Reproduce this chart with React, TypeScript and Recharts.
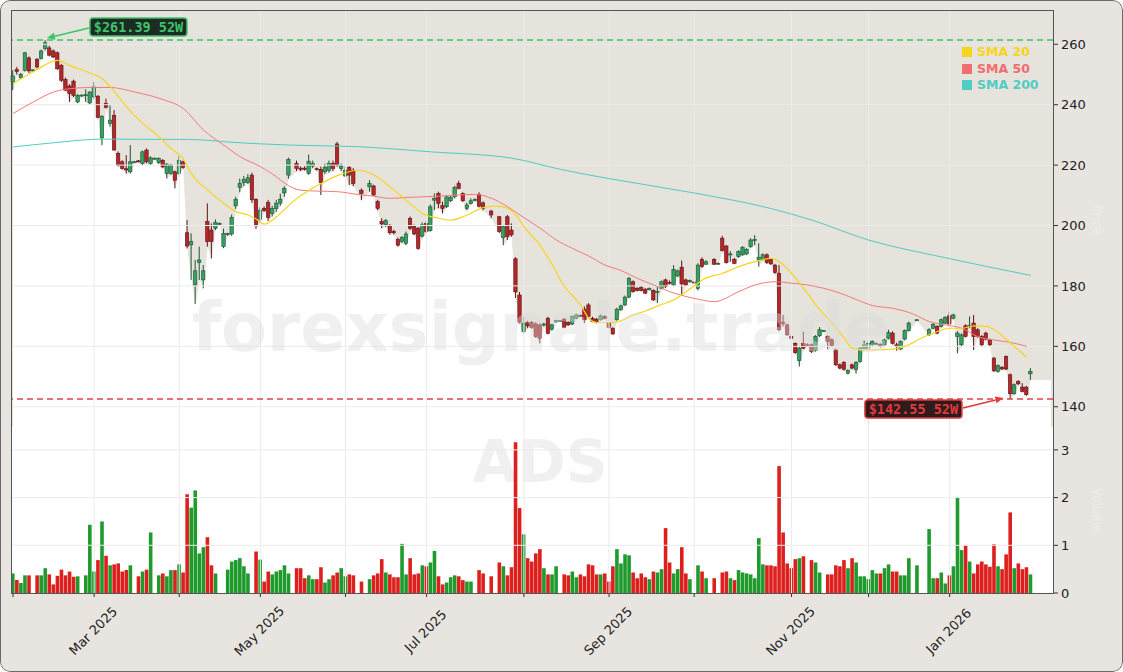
import React from 'react';
import {
  ComposedChart,
  Bar,
  Line,
  Area,
  XAxis,
  YAxis,
  CartesianGrid,
  ReferenceLine,
  ReferenceDot,
  Cell,
} from 'recharts';

// daily OHLC, one slot per trading day (null = no data that day)
const OPEN = [
  247.5, 251.6, 248.9, 251.4, 255.5, 251.3, 255, 255.3, 258.6, 258.8,
  257.8, 257.2, 253, 248.4, 246.2, 247.8, 240.9, 243, 243, 240.6,
  242.6, 242.8, 229, 240.4, 233.8, 236.5, 223.9, 221.1, 218.8, 217.8,
  221, 221.4, 220.5, 225, 220.5, 222.1, 220.8, 221.6, 217.2, 217.2,
  217.8, 217.2, 221.1, 197.6, 193.6, 180.3, 187.7, 182, 201.3, 198.5,
  199.1, 200.5, 193, 197, 197.2, 206.5, 212.6, 214.2, 214.2, 216.7,
  208.7, 202.1, 205.7, 207.6, 204, 205.6, 207.4, 210.8, 216.7, null,
  220.6, 219, 219, 217.3, 219.7, 218.8, 218.6, 217.8, 218.2, 220.6,
  227, 218.9, 216.4, 219.2, 218.3, null, 211.7, null, 212.8, 213.1,
  207.9, 201.3, 200.2, 199.8, 198, 195.4, 194.7, 194.1, 202.4, 199.8,
  199.1, 196.5, 200.7, 198.3, 208.4, 210.6, 206.6, 206.2, 208.2, 209.5,
  213.9, 210.6, 205.7, 207.3, 208.4, 210.3, 207.5, null, 204.8, null,
  202.9, 196, 202.9, 198.5, 189, 177, 164.9, 167.9, 167.9, 167.4,
  167.1, 167.1, 169.3, 165.7, 168.1, 168.5, 169, 167.9, 167.4, 169.3,
  170.2, 172.3, 173.7, 169.3, 169, 168.8, 169.9, 167.7, 166, 168.8,
  172.1, 173.7, 176.3, 181.4, 179.2, 179.6, 178.9, 178.8, 178.5, 177.8,
  179.2, 182, 181.2, 180.3, 183.3, 186.2, 182, 181.4, 181.3, 179.2,
  188.8, 187.2, null, 188.8, 187.4, 195.8, 193.2, 190.3, 188.8, 189.7,
  190.3, 190.6, 193, 195, 188.6, 188.8, 190.3, 188.8, 186.9, 184.2,
  168, 167.1, 163.2, 161, 155.3, 161, 160.5, 160.5, 158.6, 163.5,
  165.1, 163.3, 162.2, 158.8, 153.9, 154.7, 151.1, 153.9, 152.4, 155,
  159.4, 159.4, 160.5, 160.9, 160.6, 160.5, 162.7, 164.4, 160.5, 159.1,
  162.4, 165.2, null, 168.7, null, null, 163.8, 166, 166.6, 166.6,
  167.7, 170.1, 169.3, 163.3, 160.5, 166.8, 166.5, 167.7, 165.5, 163.3,
  164.4, 162.1, 156.1, 151.7, 153.1, 156.6, 150.6, 144.3, 148.4, 146.5,
  146.5, 150.9,
];
const HIGH = [
  251.4, 252.5, 250.5, 257.5, 256, 251.8, 255.5, 258.2, 261.39, 259.5,
  258.3, 257.6, 253.5, 249, 246.8, 248.3, 243.5, 243.4, 245.1, 244.5,
  247.5, 243.2, 236.5, 242, 239.8, 238.2, 224.5, 221.6, 223.3, 226.6,
  221.4, 221.7, 224.8, 225.5, 222.9, 222.5, 222.6, 222, 220.7, 220.4,
  218.2, 223, 221.5, 201.8, 197.4, 188.6, 193, 186.9, 207.3, 200.7,
  202, 201, 199, 197.6, 203.6, 209.5, 215.5, 216.4, 217, 217.5,
  209, 206, 206.3, 208.5, 206.5, 208.5, 210.5, 213, 222.5, null,
  221.5, 219.5, 219.6, 223.5, 221.5, 219.2, 219.5, 220.5, 221.5, 221.5,
  227.7, 220.5, 219.5, 219.7, 219, null, 212.3, null, 215, 213.5,
  208.5, 202.4, 202.2, 200.5, 198.6, 196, 196.5, 198, 203, 200.3,
  199.5, 201, 201.5, 207, 210.6, 211.2, 207.9, 210, 209.8, 213.2,
  214.8, 211, 207.5, 209, 209, 211, 208, null, 205.2, null,
  203.2, 200, 203.5, 200.7, 189.5, 178, 169.9, 168.5, 168.4, 168,
  167.6, 167.8, 169.8, 167.5, 168.8, 168.7, 169.4, 168.3, 170.2, 170.8,
  170.5, 173.2, 174.3, 169.8, 169.4, 170.5, 170.3, 168, 166.3, 172.8,
  173.8, 176.8, 183, 181.8, 179.6, 180, 179.3, 179.5, 178.9, 179.6,
  181.8, 182.4, 181.8, 186.9, 185.4, 188.4, 182.4, 182.1, 181.5, 187.5,
  189.5, 188.5, null, 189.2, 187.8, 196.6, 193.6, 191.5, 189.3, 191.8,
  193.2, 192.5, 195.8, 196.8, 194.1, 190.8, 190.8, 189.2, 187.3, 186.9,
  170.4, 167.5, 163.6, 161.3, 159.8, 164.8, 161, 160.9, 163.7, 166.4,
  165.4, 163.7, 162.6, 159.2, 154.3, 155.1, 152.4, 154.3, 155.1, 159.8,
  161.9, 161.6, 162, 161.3, 161, 162.5, 165.5, 165, 161.2, 162,
  165.6, 168.2, null, 169, null, null, 166, 167.7, 167, 169.2,
  170, 171.5, 170.8, 165, 164.3, 167.3, 169.9, 170.4, 166, 163.7,
  164.8, 162.5, 156.5, 154, 153.4, 157, 151, 147.7, 148.8, 147.8,
  146.9, 152.8,
];
const LOW = [
  244.8, 250, 248.5, 251, 250.5, 251, 252, 255, 258, 256,
  255.5, 251.5, 247.5, 244.5, 240.9, 242.5, 240.5, 242.6, 240.9, 240,
  242, 235.5, 226.6, 238.8, 232.7, 224.8, 219.5, 218.5, 217.2, 217.2,
  220.7, 220.9, 220, 220.6, 220, 221.8, 220.4, 219, 215.6, 216.8,
  212.3, 216.8, 218.8, 192.4, 182, 174, 182, 179.2, 193, 189.1,
  198.5, 200.4, 192.5, 196.6, 196.6, 205.5, 211, 213, 213.8, 207.5,
  198.9, 201, 204.5, 201.5, 203, 204.5, 206.5, 209.5, 215.5, null,
  218, 218, 218.2, 216.8, 219, 218.2, 210.1, 217, 217.5, 218,
  219.5, 218, 216, 213.4, 213, null, 208.4, null, 211.2, 209.8,
  205, 199.1, 199.5, 197, 197, 193, 194.2, 193.5, 198.5, 196.8,
  192, 196, 197.5, 198, 205.1, 205.7, 204, 205.8, 207.8, 209,
  212, 207.8, 205, 207, 208, 206, 205, null, 202.4, null,
  197.5, 193.5, 195.2, 196.3, 176, 167.5, 164.3, 166, 165.8, 162.8,
  161, 166.6, 164, 165.2, 167.8, 168.3, 166, 166.8, 167, 169,
  169.8, 167.7, 169.5, 168, 167.6, 168.5, 169, 166, 163.8, 168.5,
  171.8, 173.4, 176, 177.8, 178.2, 178.2, 177.3, 178.5, 175, 174.3,
  178.9, 179.3, 180.5, 180, 183, 177, 180, 181, 180.8, 178.5,
  186, 187, null, 186.9, 187.2, 191.4, 187.4, 188, 187.2, 189.3,
  190, 190.2, 192.6, 193.5, 186.4, 188.4, 187.3, 187, 184, 165,
  166.6, 163.5, 162.4, 157.5, 153.3, 159, 160, 157.8, 158.2, 163.1,
  164.9, 159, 159.8, 153.5, 152.4, 152, 150.7, 152.4, 151, 154.6,
  159, 159, 160.2, 160.6, 159.6, 160.2, 162.3, 160.6, 158.6, 158.8,
  162, 164.9, null, 168.5, null, null, 163.4, 165.7, 164, 166.3,
  167.4, 167, 169, 157.7, 160, 163, 166, 158.8, 162.9, 160.1,
  162, 160.1, 151.5, 151.3, 152.2, 152.1, 142.55, 144, 147.2, 144.8,
  143.6, 148.9,
];
const CLOSE = [
  249.5, 251, 250, 257.2, 251.2, 251.5, 252.5, 257.8, 260.5, 256.4,
  255.8, 251.9, 248.1, 244.8, 243.7, 243.1, 243.1, 243.2, 243.3, 244.2,
  245.9, 235.8, 236.2, 239.1, 234.9, 225, 220, 218.9, 218.4, 221.1,
  221.1, 221.2, 224.4, 221.1, 222.4, 222.3, 222.2, 219.4, 220.3, 220,
  215, 221.6, 219.2, 193.2, 194.7, 185, 188.6, 185, 194.7, 194.7,
  201, 200.7, 197.4, 197.3, 202.7, 208.7, 214, 215.3, 215.8, 208.5,
  199.9, 205.1, 205, 202.7, 205.6, 207.4, 208.7, 212.3, 221.9, null,
  218.9, 218.6, 218.6, 221.3, 220.6, 218.6, 214.2, 219.3, 220.5, 218.9,
  220, 219.7, 218.3, 216.7, 213.9, null, 210.6, null, 213.9, 210.1,
  205.7, 200.5, 201.6, 197.6, 197.6, 193.5, 196, 197.2, 199.1, 197.2,
  192.4, 200.2, 198, 206.2, 209, 207.3, 205.7, 209.5, 209.3, 212.6,
  212.3, 208.2, 206.8, 208.2, 208.6, 206.4, 205.7, null, 203.5, null,
  198, 199.6, 196.3, 196.9, 178, 168, 167.7, 166.8, 166.3, 163.2,
  162.7, 167.4, 164.3, 167.1, 168.5, 168.5, 166.3, 167.1, 169.9, 170.4,
  170.1, 168.8, 169.9, 168.2, 167.9, 170.1, 169.2, 166.3, 164.1, 172.3,
  173.4, 176.3, 182.5, 178.1, 178.5, 178.5, 177.6, 179.2, 175.4, 178.2,
  181.4, 179.8, 181, 185.5, 185, 180.7, 180.3, 181.8, 181.1, 186.9,
  186.4, 188, null, 187.2, 187.5, 191.7, 187.7, 190.6, 187.5, 191.4,
  192.8, 192.1, 195.2, 195.4, 189.5, 190.3, 187.7, 187.3, 184.4, 165.5,
  167.5, 163.8, 162.7, 157.9, 159.4, 159.4, 160.2, 158.3, 163.3, 165.5,
  165.2, 161.6, 160.2, 153.9, 152.8, 152.4, 152, 152.8, 154.7, 159.4,
  160.5, 161, 161.6, 161, 160, 162.1, 164.6, 161, 160, 161.6,
  165.2, 167.7, null, 168.8, null, null, 165.5, 167.3, 164.4, 168.8,
  169.6, 167.4, 170.4, 164.4, 163.8, 163.3, 167, 163.3, 163.3, 160.5,
  162.4, 160.5, 151.9, 153.6, 152.5, 152.5, 144.3, 147.3, 147.6, 145.1,
  144, 151.7,
];
// volume in millions (0 = missing)
const VOLUME = [
  0.41, 0.27, 0.21, 0.37, 0.37, 0, 0.37, 0.37, 0.52, 0.39,
  0.18, 0.36, 0.49, 0.37, 0.45, 0.34, 0.35, 0, 0.37, 1.43,
  0.45, 0.69, 1.5, 0.78, 0.58, 0.6, 0.62, 0.45, 0.48, 0.58,
  0, 0.35, 0.45, 0.49, 1.27, 0, 0.37, 0.41, 0.35, 0.48,
  0.48, 0.6, 0.43, 2.07, 1.79, 2.15, 0.83, 0.96, 1.17, 0.58,
  0.41, 0, 0, 0.49, 0.66, 0.69, 0.73, 0.56, 0.41, 0,
  0.87, 0.7, 0.24, 0.45, 0.39, 0.45, 0.48, 0.58, 0.41, 0,
  0.52, 0.52, 0.31, 0.37, 0.29, 0.29, 0.54, 0.22, 0.29, 0.37,
  0.43, 0.52, 0.35, 0.39, 0.37, 0, 0.24, 0, 0.29, 0.37,
  0.41, 0.71, 0.43, 0.39, 0.33, 0.33, 1.03, 0.39, 0.73, 0.39,
  0.41, 0.58, 0.56, 0.64, 0.88, 0.35, 0.18, 0.22, 0.33, 0.37,
  0.35, 0.27, 0.24, 0.24, 0, 0.48, 0.41, 0, 0.35, 0,
  0.64, 0.56, 0.37, 0.54, 3.16, 1.78, 1.23, 0.73, 0.66, 0.83,
  0.92, 0.52, 0.39, 0.39, 0.56, 0, 0.39, 0.37, 0.45, 0.33,
  0.39, 0.35, 0.6, 0.58, 0.39, 0.39, 0.41, 0.24, 0.56, 0.92,
  0.62, 0.81, 0.79, 0.43, 0.31, 0.41, 0.33, 0.29, 0.45, 0.43,
  0.5, 1.36, 0.64, 0.41, 0.5, 0.96, 0.41, 0.29, 0, 0.58,
  0.45, 0.31, 0, 0.31, 0, 0.43, 0.45, 0.31, 0.27, 0.48,
  0.43, 0.41, 0.39, 0.31, 1.15, 0.6, 0.58, 0.58, 0.56, 2.66,
  1.27, 0.62, 0.52, 0.71, 0.73, 0.77, 0, 0.69, 0.64, 0.43,
  0, 0.39, 0.39, 0.58, 0.56, 0.69, 0.52, 0.73, 0.64, 0.35,
  0.35, 0.29, 0.48, 0.41, 0.41, 0.52, 0.6, 0.45, 0.45, 0.37,
  0.37, 0.73, 0, 0.58, 0, 0, 1.34, 0.31, 0.31, 0.43,
  0.2, 0.37, 0.56, 2.01, 0.9, 1.0, 0.66, 0.41, 0.6, 0.66,
  0.6, 0.55, 1.02, 0.56, 0.5, 0.81, 1.69, 0.52, 0.62, 0.5,
  0.54, 0.39,
];
// white floor keeps going past the last session
const FLOOR_TAIL = [148.9, 148.9, 148.9, 148.9, 148.9];

// moving averages as [day, value]
const SMA20 = [
  [0, 247], [5, 250.9], [11, 254.7], [14, 253], [19, 250.5], [22, 248.6], [24, 245.9],
  [28, 239.3], [32, 233.8], [36, 229.4], [39, 225.5], [42, 222], [44, 217.2], [48, 211.7],
  [52, 207.3], [55, 204.6], [58, 203.5], [60, 202.1], [62, 200.5], [65, 202.9], [69, 207.9],
  [73, 211.7], [76, 213.9], [80, 216.5], [85, 218.3], [89, 216.7], [93, 212.8], [97, 208.4],
  [101, 204], [105, 202.4], [108, 201.8], [112, 203.5], [116, 205.9], [119, 206.4], [122, 205.7],
  [124, 203.5], [126, 199.6], [130, 193.5], [133, 187], [136, 179.8], [140, 173.7], [142, 169.3],
  [144, 167.9], [148, 167.9], [150, 168.5], [153, 170.4], [156, 171.7], [159, 173.4], [163, 175.4],
  [166, 178.1], [168, 180], [170, 182], [175, 184.2], [179, 186.4], [184, 188.4], [187, 189.1],
  [189, 188], [192, 184.2], [195, 179.2], [198, 173.7], [202, 167.7], [205, 162.7], [207, 159.4],
  [210, 158.8], [214, 158.9], [217, 159.1], [220, 160], [224, 162.7], [228, 164.9], [231, 166],
  [234, 166], [237, 166.8], [240, 166.6], [243, 164.6], [246, 161.1], [248, 158.8], [250, 156.3],
];
const SMA50 = [
  [0, 237.1], [5, 240.9], [10, 244.2], [14, 245.3], [19, 245.7], [24, 245.7], [30, 244.2],
  [37, 241.7], [42, 238.7], [47, 231.6], [52, 226.6], [56, 222.8], [61, 219.5], [65, 216.1],
  [67, 214], [71, 211.7], [75, 211.4], [80, 211.2], [85, 210.3], [89, 209.7], [93, 209],
  [97, 209.3], [105, 209.7], [114, 210.3], [118, 209], [122, 206.2], [125, 203.5], [130, 199.1],
  [134, 195.2], [138, 192.4], [142, 189.9], [146, 186.9], [150, 185.1], [154, 182.5], [158, 180.3],
  [162, 178.1], [166, 176.5], [169, 175.6], [173, 174.8], [179, 178.1], [183, 180.3], [188, 181.4],
  [192, 180.9], [196, 180.3], [200, 179.2], [204, 177.6], [208, 175.5], [212, 173.5], [217, 172.6],
  [222, 170.7], [226, 168.2], [230, 167.1], [234, 166], [238, 163.2], [242, 162.1], [246, 161.3],
  [250, 160],
];
const SMA200 = [
  [0, 226], [10, 227.4], [22, 228.6], [43, 228.5], [57, 227.3], [69, 226.6], [85, 226.1],
  [103, 224.4], [123, 222.3], [135, 218.6], [145, 216], [167, 211], [187, 205.6], [197, 201.8],
  [211, 195.2], [229, 189.6], [251, 183.5],
];

const PRICE_TICKS = [140, 160, 180, 200, 220, 240, 260];
const VOL_TICKS = [0, 1, 2, 3];
const MONTH_TICKS = [0, 20, 41, 61, 82, 102, 126, 147, 168, 192, 211, 231];
const MONTH_LABELS = ['', 'Mar 2025', '', 'May 2025', '', 'Jul 2025', '', 'Sep 2025', '', 'Nov 2025', '', 'Jan 2026'];

const HIGH_52W = 261.39;
const HIGH_52W_DAY = 8;
const LOW_52W = 142.55;
const LOW_52W_DAY = 246;

const UP_FILL = '#35a160';
const UP_EDGE = '#1d5234';
const DOWN_FILL = '#b5262a';
const DOWN_EDGE = '#5e1414';
const VOL_UP = '#1f9a2c';
const VOL_DOWN = '#dd1f1d';
const GRID = '#ebebeb';
const FONT = 'DejaVu Sans';

const rows: any[] = [];
for (let i = 0; i < OPEN.length + FLOOR_TAIL.length; i++) {
  const inData = i < OPEN.length;
  const has = inData && OPEN[i] != null;
  rows.push({
    i,
    o: has ? OPEN[i] : null,
    h: has ? HIGH[i] : null,
    l: has ? LOW[i] : null,
    c: has ? CLOSE[i] : null,
    hl: has ? [LOW[i], HIGH[i]] : null,
    v: inData && VOLUME[i] ? VOLUME[i] : null,
    floor: inData ? LOW[i] : FLOOR_TAIL[i - OPEN.length],
    s20: null,
    s50: null,
    s200: null,
  });
}
SMA20.forEach(([d, v]) => (rows[d].s20 = v));
SMA50.forEach(([d, v]) => (rows[d].s50 = v));
SMA200.forEach(([d, v]) => (rows[d].s200 = v));

function Candle(props: any) {
  const { x, y, width, height, payload } = props;
  if (!payload || payload.o == null) return null;
  const { o, h, l, c } = payload;
  const top = Math.min(y, y + height);
  const span = Math.abs(height);
  const range = h - l;
  const at = (v: number) => (range > 0 ? top + ((h - v) / range) * span : top);
  const up = c >= o;
  const bTop = at(Math.max(o, c));
  const bBot = at(Math.min(o, c));
  const mid = x + width / 2;
  return (
    <g>
      <line x1={mid} x2={mid} y1={top} y2={top + span} stroke={up ? UP_EDGE : DOWN_EDGE} strokeWidth={1} />
      <rect
        x={x}
        y={bTop}
        width={width}
        height={Math.max(bBot - bTop, 1)}
        fill={up ? UP_FILL : DOWN_FILL}
        stroke={up ? UP_EDGE : DOWN_EDGE}
        strokeWidth={0.6}
      />
    </g>
  );
}

// the watermark rides on the floor area's first dot so it sits above the white fill but under the candles
function FloorDot(props: any) {
  if (props.index !== 0) return <g key={'fd' + props.index} />;
  return (
    <text
      key="wm"
      x={541}
      y={328}
      textAnchor="middle"
      dominantBaseline="central"
      fontFamily={FONT}
      fontWeight="bold"
      fontSize={67}
      fill="#dcdcdc"
      fillOpacity={0.42}
    >
      forexsignale.trade
    </text>
  );
}

function Arrow({ x1, y1, x2, y2, color }: any) {
  const a = Math.atan2(y2 - y1, x2 - x1);
  const len = 8;
  const w = 3.5;
  const bx = x2 - len * Math.cos(a);
  const by = y2 - len * Math.sin(a);
  const px = -Math.sin(a) * w;
  const py = Math.cos(a) * w;
  return (
    <g>
      <line x1={x1} y1={y1} x2={bx} y2={by} stroke={color} strokeWidth={1.6} />
      <polygon points={`${x2},${y2} ${bx + px},${by + py} ${bx - px},${by - py}`} fill={color} />
    </g>
  );
}

function HighTag(props: any) {
  const { cx, cy } = props;
  const left = cx + 44.5;
  const top = cy - 22;
  return (
    <g>
      <Arrow x1={left - 1} y1={top + 10} x2={cx + 1.5} y2={cy - 2} color="#3cc46a" />
      <rect x={left} y={top} width={97} height={18} rx={3} fill="#1d2b23" stroke="#3cc46a" strokeWidth={1.5} />
      <text x={left + 48.5} y={top + 13.5} textAnchor="middle" fontFamily="DejaVu Sans Mono" fontWeight="bold" fontSize={13.5} fill="#3cc46a">
        {`$${HIGH_52W.toFixed(2)} 52W`}
      </text>
    </g>
  );
}

function LowTag(props: any) {
  const { cx, cy } = props;
  const left = cx - 145.5;
  const top = cy + 1;
  return (
    <g>
      <Arrow x1={left + 98} y1={top + 8} x2={cx - 7} y2={cy - 1} color="#e23a3a" />
      <rect x={left} y={top} width={97} height={18} rx={3} fill="#2e1c1c" stroke="#e23a3a" strokeWidth={1.5} />
      <text x={left + 48.5} y={top + 13.5} textAnchor="middle" fontFamily="DejaVu Sans Mono" fontWeight="bold" fontSize={13.5} fill="#e23a3a">
        {`$${LOW_52W.toFixed(2)} 52W`}
      </text>
    </g>
  );
}

function MonthTick(props: any) {
  const { x, y, payload } = props;
  const label = MONTH_LABELS[MONTH_TICKS.indexOf(payload.value)];
  if (!label) return null;
  const cx = x - 1;
  const cy = y + 32;
  return (
    <text
      x={cx}
      y={cy}
      textAnchor="middle"
      dominantBaseline="central"
      transform={`rotate(-45, ${cx}, ${cy})`}
      fontFamily={FONT}
      fontSize={13}
      fill="#222"
    >
      {label}
    </text>
  );
}

const yTick = { fill: '#222', fontSize: 13, fontFamily: FONT };

export default function App() {
  return (
    <div style={{ position: 'relative', width: 1123, height: 672, background: '#e8e5e0', borderRadius: 10, overflow: 'hidden', fontFamily: FONT }}>
      <style>{'body{margin:0}'}</style>

      {/* price panel */}
      <div style={{ position: 'absolute', left: 0, top: 0 }}>
        <ComposedChart width={1123} height={427} data={rows} margin={{ top: 10, right: 0, bottom: 0, left: 11 }}>
          <CartesianGrid horizontal={false} vertical={false} fill="#e6e2dc" fillOpacity={1} />
          <XAxis dataKey="i" type="category" hide />
          <YAxis
            orientation="right"
            domain={[133.3, 271.35]}
            ticks={PRICE_TICKS}
            width={70}
            axisLine={false}
            tickSize={5}
            tickMargin={3}
            tickLine={{ stroke: '#333' }}
            tick={yTick}
            allowDataOverflow
          />
          <Area
            dataKey="floor"
            type="linear"
            fill="#ffffff"
            fillOpacity={1}
            stroke="none"
            connectNulls
            dot={FloorDot}
            activeDot={false}
            isAnimationActive={false}
          />
          {PRICE_TICKS.map((t) => (
            <ReferenceLine key={'h' + t} y={t} stroke={GRID} strokeWidth={1} />
          ))}
          {MONTH_TICKS.slice(1).map((t) => (
            <ReferenceLine key={'v' + t} x={t} stroke={GRID} strokeWidth={1} />
          ))}
          <Bar dataKey="hl" barSize={3.4} shape={<Candle />} isAnimationActive={false} />
          <Line dataKey="s200" type="monotone" stroke="#4ecdc4" strokeWidth={1} dot={false} connectNulls isAnimationActive={false} />
          <Line dataKey="s50" type="monotone" stroke="#f47a78" strokeWidth={1} dot={false} connectNulls isAnimationActive={false} />
          <Line dataKey="s20" type="monotone" stroke="#f7d51d" strokeWidth={1.2} dot={false} connectNulls isAnimationActive={false} />
          <ReferenceLine y={HIGH_52W} stroke="#3cc46a" strokeWidth={1.5} strokeDasharray="6 4" />
          <ReferenceLine y={LOW_52W} stroke="#e04444" strokeWidth={1.5} strokeDasharray="6 4" />
          <ReferenceDot x={HIGH_52W_DAY} y={HIGH_52W} r={1} shape={HighTag} />
          <ReferenceDot x={LOW_52W_DAY} y={LOW_52W} r={1} shape={LowTag} />
        </ComposedChart>
      </div>

      {/* volume panel */}
      <div style={{ position: 'absolute', left: 0, top: 427 }}>
        <ComposedChart width={1123} height={245} data={rows} margin={{ top: 0, right: 0, bottom: 0, left: 11 }}>
          <CartesianGrid horizontal={false} vertical={false} fill="#ffffff" fillOpacity={1} />
          <XAxis
            dataKey="i"
            type="category"
            ticks={MONTH_TICKS}
            interval={0}
            height={79}
            axisLine={false}
            tickSize={4}
            tickLine={{ stroke: '#333' }}
            tick={<MonthTick />}
          />
          <YAxis
            orientation="right"
            domain={[0, 3.48]}
            ticks={VOL_TICKS}
            width={70}
            axisLine={false}
            tickSize={5}
            tickMargin={3}
            tickLine={{ stroke: '#333' }}
            tick={yTick}
            allowDataOverflow
          />
          {VOL_TICKS.slice(1).map((t) => (
            <ReferenceLine key={'h' + t} y={t} stroke={GRID} strokeWidth={1} />
          ))}
          {MONTH_TICKS.slice(1).map((t) => (
            <ReferenceLine key={'v' + t} x={t} stroke={GRID} strokeWidth={1} />
          ))}
          <text x={540} y={35} textAnchor="middle" dominantBaseline="central" fontFamily={FONT} fontWeight="bold" fontSize={58} fill="#dcdcdc" fillOpacity={0.42}>
            ADS
          </text>
          <Bar dataKey="v" barSize={3.6} isAnimationActive={false}>
            {rows.map((r) => (
              <Cell key={r.i} fill={r.c != null && r.c < r.o ? VOL_DOWN : VOL_UP} />
            ))}
          </Bar>
        </ComposedChart>
      </div>

      {/* plot frame */}
      <div style={{ position: 'absolute', left: 11, top: 10, width: 1043, height: 584, boxSizing: 'border-box', border: '1px solid #555', pointerEvents: 'none' }} />

      {/* faint axis titles */}
      <div style={{ position: 'absolute', left: 1104, top: 205, transform: 'rotate(90deg)', transformOrigin: 'left top', fontSize: 12, color: '#efede9', pointerEvents: 'none' }}>Price</div>
      <div style={{ position: 'absolute', left: 1104, top: 488, transform: 'rotate(90deg)', transformOrigin: 'left top', fontSize: 12, color: '#efede9', pointerEvents: 'none' }}>Volume</div>

      {/* legend */}
      <div style={{ position: 'absolute', left: 962, top: 44, fontWeight: 'bold', fontSize: 12.5, lineHeight: '16.5px' }}>
        {[
          ['SMA 20', '#f7d51d'],
          ['SMA 50', '#f26d6d'],
          ['SMA 200', '#4ecdc4'],
        ].map(([name, color]) => (
          <div key={name} style={{ display: 'flex', alignItems: 'center', color }}>
            <span style={{ width: 10, height: 10, background: color, marginRight: 5, display: 'inline-block' }} />
            {name}
          </div>
        ))}
      </div>

      {/* outer border */}
      <div style={{ position: 'absolute', inset: 0, border: '1.5px solid #6a6a6a', borderRadius: 10, pointerEvents: 'none' }} />
    </div>
  );
}
